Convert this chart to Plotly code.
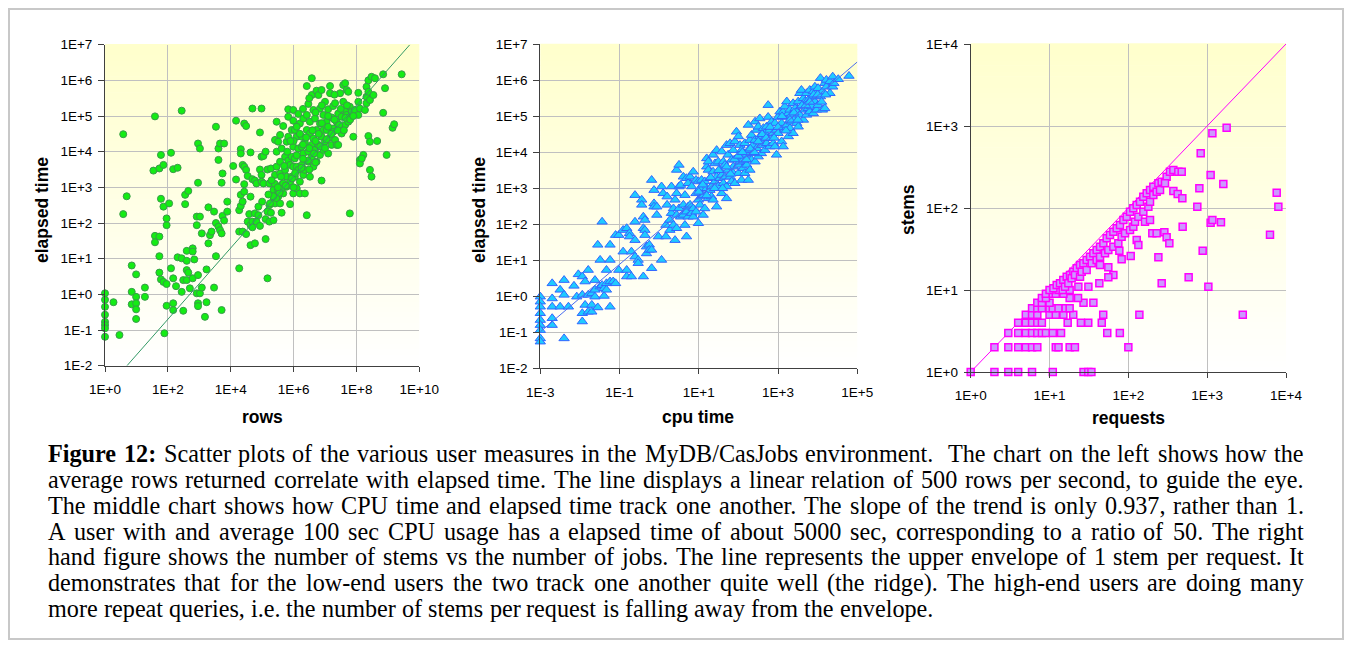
import plotly.graph_objects as go

# ---------------- DATA (log10 exponents on log axes) ----------------
# Panel 1: (log10 rows, log10 elapsed time)
rows_elapsed_log10 = [
    (0, 0.03), (0, -0.15), (0, -0.35), (0, -0.57), (0, -0.77), (0, -0.86), (0, -0.95), (0, -1.19),
    (0.27, -0.22), (0.46, -1.14), (0.58, 4.49), (0.58, 2.25), (0.69, 2.75),
    (0.85, 0.81), (0.85, 0.07), (0.85, -0.28),
    (0.99, 0.56), (0.99, -0.07), (0.99, -0.25), (0.99, -0.42), (0.99, -0.69),
    (1.27, 0.19), (1.27, -0.07),
    (1.59, 4.99), (1.59, 1.64), (1.59, 1.46), (1.54, 3.47),
    (1.73, 3.53), (1.73, 1.62), (1.73, 1.07), (1.73, 0.61),
    (1.78, 3.91), (1.78, 2.68), (1.78, 0.42),
    (1.86, 3.63), (1.86, 2.46), (1.86, 0.35),
    (1.96, 1.94), (1.96, 2.13), (1.96, 0.29), (1.96, -0.32), (1.89, -1.09),
    (2.04, 2.55), (2.1, 0.73), (2.1, 3.97),
    (2.17, 0.45), (2.17, -0.25), (2.17, -0.44), (2.17, 3.51),
    (2.26, 0.23), (2.31, 1.04), (2.31, 3.55),
    (2.44, 5.15), (2.44, 1.01), (2.44, 0.07),
    (2.49, -0.46), (2.49, 0.4), (2.55, 2.53), (2.55, 2.79),
    (2.6, 1.22), (2.6, 0.94), (2.6, 0.68), (2.6, 0.4),
    (2.65, 2.9), (2.65, 0.61), (2.7, 0.17),
    (2.79, 1.29), (2.79, 1.2), (2.79, 0.45), (2.84, 0.98),
    (2.92, 2.18), (2.92, 1.94), (2.92, 0.03),
    (2.96, 4.23), (2.96, 3.13), (2.96, 0.54), (2.96, -0.25), (2.96, -0.33),
    (3.02, 4.09), (3.02, 2.18), (3.02, 0.03),
    (3.08, 0.19), (3.08, 1.71), (3.18, -0.63), (3.23, 0.7), (3.23, -0.22),
    (3.29, 2.44), (3.29, 1.43), (3.34, 1.66), (3.39, 1.76),
    (3.47, 2.32), (3.47, 0.19),
    (3.53, 4.7), (3.53, 2.0), (3.53, 1.07),
    (3.61, 4.09), (3.61, 3.77), (3.61, 1.9),
    (3.66, 4.23), (3.66, 1.8),
    (3.71, -0.44), (3.71, 3.13), (3.71, 1.71),
    (3.74, 3.39), (3.74, 2.2), (3.79, 4.23), (3.79, 2.07),
    (3.89, 2.6), (3.89, 2.32),
    (4.08, 3.6), (4.17, 4.87), (4.17, 3.22),
    (4.27, 2.36), (4.27, 1.76), (4.27, 0.73),
    (4.32, 4.07), (4.32, 3.95), (4.32, 2.79), (4.32, 2.48),
    (4.38, 3.63), (4.38, 1.76), (4.38, 2.6),
    (4.43, 4.79), (4.43, 3.58), (4.43, 3.09), (4.43, 2.88),
    (4.49, 4.72), (4.49, 3.49), (4.49, 1.69),
    (4.54, 3.32), (4.54, 2.04), (4.59, 2.25),
    (4.63, 3.98), (4.63, 2.74), (4.63, 1.94), (4.63, 1.38),
    (4.69, 5.21), (4.69, 3.23), (4.69, 2.04), (4.69, 1.88),
    (4.77, 3.19), (4.77, 2.27), (4.77, 1.43),
    (4.82, 3.11), (4.82, 2.04), (4.88, 2.46), (4.88, 2.22),
    (4.93, 4.54), (4.93, 3.5), (4.93, 1.92),
    (4.98, 5.21), (4.98, 3.86), (4.98, 3.35), (4.98, 3.16),
    (5.04, 3.11), (5.04, 3.88),
    (5.11, 4.0), (5.11, 2.11), (5.11, 1.55),
    (5.17, 0.45), (5.17, 3.5), (5.17, 2.32),
    (5.23, 3.11), (5.23, 2.5), (5.23, 2.04),
    (5.28, 3.53), (5.28, 2.29),
    (5.36, 2.93), (5.36, 2.08), (5.36, 2.64),
    (5.41, 4.33), (5.41, 3.35), (5.41, 2.55),
    (5.46, 4.84), (5.46, 3.58), (5.46, 4.0), (5.46, 2.79),
    (5.51, 4.28), (5.51, 2.93), (5.51, 2.74),
    (5.57, 4.47), (5.57, 3.72), (5.57, 3.39), (5.57, 2.55),
    (5.62, 4.09), (5.62, 3.07), (5.62, 2.29),
    (5.67, 4.72), (5.67, 3.11), (5.67, 2.83),
    (5.73, 3.86), (5.73, 3.49),
    (5.78, 4.28), (5.78, 3.3), (5.78, 3.02),
    (5.83, 5.19), (5.83, 4.98), (5.83, 3.75), (5.83, 4.42),
    (5.89, 3.63), (5.89, 2.53), (5.89, 3.16),
    (5.94, 4.61), (5.94, 3.86), (5.94, 3.3),
    (5.99, 5.17), (5.99, 4.87), (5.99, 4.14), (5.99, 2.83), (5.99, 3.58),
    (6.04, 4.61), (6.04, 3.3), (6.04, 3.81),
    (6.1, 4.42), (6.1, 3.58), (6.1, 2.97),
    (6.15, 5.06), (6.15, 4.09), (6.15, 3.49),
    (6.2, 4.79), (6.2, 3.16), (6.2, 2.83),
    (6.26, 4.42), (6.26, 3.63), (6.26, 4.14),
    (6.31, 4.93), (6.31, 3.95), (6.31, 3.35),
    (6.36, 4.25), (6.36, 2.83), (6.36, 3.49),
    (6.42, 5.84), (6.42, 5.03), (6.42, 4.61), (6.42, 2.22),
    (6.47, 5.34), (6.47, 4.0), (6.47, 3.72),
    (6.52, 4.84), (6.52, 4.51), (6.52, 3.3),
    (6.58, 6.06), (6.58, 5.59), (6.58, 4.19), (6.58, 3.86),
    (6.63, 5.17), (6.63, 4.37), (6.63, 3.58),
    (6.68, 4.93), (6.68, 4.05),
    (6.73, 5.71), (6.73, 4.61), (6.73, 3.72),
    (6.79, 5.59), (6.79, 4.19),
    (6.84, 5.21), (6.84, 4.79), (6.84, 3.91),
    (6.89, 5.73), (6.89, 3.19), (6.89, 4.42),
    (6.95, 5.03), (6.95, 4.61), (6.95, 4.05),
    (7.0, 5.4), (7.0, 4.28), (7.05, 4.84), (7.05, 4.61),
    (7.1, 5.19), (7.1, 3.95),
    (7.16, 5.84), (7.16, 5.64), (7.16, 4.4),
    (7.21, 4.96), (7.21, 4.19), (7.26, 5.28), (7.26, 4.65),
    (7.32, 5.36), (7.32, 4.33), (7.37, 4.84), (7.37, 4.19),
    (7.42, 5.07), (7.42, 4.19), (7.48, 5.64), (7.48, 4.65),
    (7.53, 4.98), (7.53, 4.51), (7.58, 5.4), (7.58, 5.87),
    (7.64, 5.92), (7.64, 4.75), (7.64, 5.17),
    (7.69, 5.73), (7.69, 5.03), (7.74, 5.68), (7.74, 4.84),
    (7.79, 5.26), (7.79, 2.27),
    (7.85, 5.12), (7.9, 4.42), (7.95, 5.17),
    (8.06, 5.65), (8.06, 5.4), (8.06, 5.03),
    (8.11, 5.21), (8.11, 3.77), (8.11, 3.67),
    (8.22, 3.91), (8.17, 3.81), (8.27, 5.17),
    (8.32, 5.82), (8.32, 5.54), (8.32, 5.36),
    (8.38, 6.0), (8.38, 5.68), (8.38, 4.44),
    (8.43, 5.45), (8.43, 4.28), (8.43, 3.49),
    (8.48, 6.1), (8.48, 3.3),
    (8.54, 5.59), (8.59, 6.06), (8.66, 4.3),
    (8.85, 6.17), (8.85, 5.09), (8.91, 5.78), (8.96, 3.91),
    (9.15, 4.67), (9.2, 4.77), (9.44, 6.17),
    (5.25, 2.55), (5.45, 2.7), (5.6, 2.95), (5.75, 3.05), (5.95, 3.25), (6.05, 3.4),
    (6.25, 3.55), (6.45, 3.75), (6.65, 3.95), (6.85, 4.15), (7.05, 4.35), (7.25, 4.55),
    (7.45, 4.75), (7.65, 4.95), (5.35, 2.75), (5.55, 2.85),
    (6.0, 4.3), (6.1, 4.7), (6.2, 4.5), (6.3, 4.2), (6.4, 4.4), (6.5, 4.1), (6.6, 4.6),
    (6.7, 4.3), (6.8, 4.5), (6.9, 4.8), (7.0, 4.1), (7.1, 4.7), (7.2, 4.5), (7.3, 4.9),
    (7.4, 4.6), (7.5, 5.2), (7.6, 4.6), (7.7, 5.3), (7.8, 4.9), (7.9, 5.0), (6.3, 5.2),
    (6.5, 5.5), (6.7, 5.1), (6.9, 5.3), (7.1, 5.0), (7.3, 5.6), (6.1, 3.9), (6.3, 3.8),
    (6.5, 3.5), (6.7, 3.7), (5.7, 3.6), (5.8, 4.0), (5.9, 4.3), (6.0, 3.0), (5.6, 3.3),
    (5.4, 3.1), (5.2, 2.8), (5.0, 2.6), (5.3, 3.2), (5.5, 3.0),
]

# Panel 2: (log10 cpu time, log10 elapsed time)
cpu_elapsed_log10 = [
    (-3.0, -0.01), (-3.0, -0.15), (-3.0, -0.29), (-3.0, -0.47), (-3.0, -0.66), (-3.0, -0.8),
    (-3.0, -0.94), (-3.0, -1.17), (-3.0, -1.26),
    (-2.7, 0.36), (-2.7, -0.06), (-2.7, -0.29), (-2.7, -0.61), (-2.7, -0.8),
    (-2.5, 0.18), (-2.5, -0.29), (-2.4, 0.45), (-2.4, 0.04), (-2.4, -1.17),
    (-2.29, -0.29), (-2.15, 0.29), (-2.08, -0.01), (-2.04, 0.61),
    (-1.94, 0.55), (-1.94, 0.04), (-1.94, -0.47), (-1.94, -0.7),
    (-1.87, 0.41), (-1.87, -0.24), (-1.79, 0.73), (-1.79, 0.04), (-1.79, -0.43),
    (-1.7, 0.08), (-1.7, -0.24), (-1.7, -0.43), (-1.62, 0.45), (-1.62, 0.18), (-1.62, -0.01),
    (-1.55, 1.43), (-1.55, -0.31), (-1.49, 1.01), (-1.49, 0.27), (-1.44, 2.07), (-1.44, 0.31),
    (-1.39, 0.01), (-1.39, 0.22), (-1.33, 0.73), (-1.33, 0.36), (-1.33, 0.18),
    (-1.24, 1.43), (-1.24, 1.01), (-1.24, 0.41), (-1.24, -0.29), (-1.16, 0.41),
    (-1.1, 1.7), (-1.1, 0.36), (-1.02, 1.7), (-1.02, 0.73),
    (-0.91, 1.84), (-0.91, 1.24), (-0.82, 1.89), (-0.82, 0.73), (-0.82, 0.55),
    (-0.75, 1.75), (-0.75, 1.66), (-0.7, 1.24), (-0.7, 0.55),
    (-0.61, 2.81), (-0.61, 2.07), (-0.61, 1.56), (-0.61, 1.1), (-0.53, 1.01), (-0.53, 0.92),
    (-0.44, 2.68), (-0.44, 2.54), (-0.4, 2.21), (-0.4, 1.89), (-0.4, 0.55),
    (-0.36, 2.12), (-0.36, 1.84), (-0.36, 1.7), (-0.32, 1.38), (-0.32, 1.19),
    (-0.25, 1.43), (-0.25, 1.29), (-0.19, 3.23), (-0.19, 1.29), (-0.19, 0.78),
    (-0.13, 2.95), (-0.13, 2.58), (-0.13, 2.49), (-0.06, 2.49), (-0.06, 2.26), (-0.02, 1.66),
    (0.06, 3.05), (0.06, 1.01), (0.1, 2.86), (0.17, 1.66), (0.17, 1.98), (0.2, 2.77), (0.2, 2.54),
    (0.27, 2.12), (0.27, 1.84), (0.31, 3.05), (0.31, 2.31), (0.36, 2.44), (0.36, 1.98),
    (0.4, 2.68), (0.4, 1.56), (0.44, 3.51), (0.44, 2.86), (0.44, 2.26), (0.44, 1.89),
    (0.5, 3.65), (0.5, 3.05), (0.5, 2.44), (0.54, 3.09), (0.54, 2.21),
    (0.61, 3.32), (0.61, 2.54), (0.61, 2.26), (0.65, 2.81), (0.65, 1.98),
    (0.69, 3.28), (0.69, 1.66), (0.69, 2.35), (0.73, 3.14), (0.73, 2.21), (0.73, 2.49),
    (0.78, 3.32), (0.78, 2.54), (0.82, 3.05), (0.82, 2.31),
    (0.86, 3.46), (0.86, 2.44), (0.86, 2.21), (0.93, 3.23), (0.93, 2.86), (0.93, 2.35),
    (0.99, 3.19), (0.99, 2.68), (0.99, 2.03), (1.03, 3.0), (1.03, 2.54),
    (1.07, 3.23), (1.07, 2.77), (1.11, 2.81), (1.11, 2.26), (1.15, 3.19), (1.15, 2.44),
    (1.2, 3.83), (1.2, 3.6), (1.2, 3.0), (1.24, 3.74), (1.24, 3.51), (1.24, 2.72),
    (1.28, 3.28), (1.28, 2.95), (1.32, 3.05), (1.32, 2.77),
    (1.36, 3.93), (1.36, 3.46), (1.36, 2.68), (1.41, 3.69), (1.41, 3.19),
    (1.45, 4.06), (1.45, 3.32), (1.45, 2.49), (1.49, 3.74), (1.49, 3.05),
    (1.53, 3.51), (1.53, 3.28), (1.58, 4.02), (1.58, 3.37), (1.58, 2.86),
    (1.62, 3.74), (1.62, 3.14), (1.66, 3.65), (1.66, 3.32),
    (1.7, 4.2), (1.7, 3.05), (1.7, 2.72), (1.74, 3.93), (1.74, 3.51),
    (1.79, 4.25), (1.79, 3.32), (1.83, 3.79), (1.83, 3.19),
    (1.87, 4.06), (1.87, 3.6), (1.87, 3.42), (1.91, 4.3), (1.91, 3.14),
    (1.95, 4.57), (1.95, 3.83), (2.0, 4.44), (2.0, 3.42), (2.0, 3.65),
    (2.04, 4.2), (2.04, 3.74), (2.08, 4.06), (2.08, 3.23), (2.12, 3.79), (2.12, 3.56),
    (2.16, 4.25), (2.16, 3.42), (2.21, 3.93), (2.21, 3.65),
    (2.25, 4.76), (2.25, 4.06), (2.25, 3.23), (2.29, 4.34), (2.29, 3.51),
    (2.33, 4.48), (2.33, 3.79), (2.37, 4.2), (2.37, 3.97),
    (2.42, 4.85), (2.42, 4.34), (2.42, 3.74), (2.46, 4.62), (2.46, 4.11),
    (2.5, 4.71), (2.5, 3.88), (2.54, 4.94), (2.54, 4.44), (2.58, 4.2), (2.58, 3.97),
    (2.63, 4.67), (2.63, 4.34), (2.67, 4.53), (2.67, 4.06), (2.71, 4.71), (2.71, 4.25),
    (2.75, 5.31), (2.75, 4.98), (2.75, 4.39), (2.79, 4.62), (2.79, 4.16),
    (2.84, 4.44), (2.84, 4.85), (2.88, 4.53), (2.88, 4.25), (2.92, 4.81), (2.92, 4.16),
    (2.96, 4.62), (2.96, 3.93), (3.0, 4.98), (3.0, 4.53), (3.05, 5.13), (3.05, 4.71),
    (3.09, 4.81), (3.09, 4.3), (3.13, 5.13), (3.13, 4.16), (3.17, 5.27), (3.17, 4.62),
    (3.22, 5.41), (3.22, 4.98), (3.22, 4.76), (3.26, 5.08), (3.26, 4.44),
    (3.3, 5.18), (3.3, 4.67), (3.34, 4.85), (3.34, 5.04), (3.38, 5.36), (3.38, 4.53),
    (3.43, 4.94), (3.43, 5.22), (3.47, 4.81), (3.47, 5.13), (3.51, 5.41), (3.51, 4.71),
    (3.55, 5.64), (3.55, 5.04), (3.59, 5.73), (3.59, 5.27), (3.64, 5.5), (3.64, 4.9),
    (3.68, 5.18), (3.68, 5.41), (3.72, 5.04), (3.72, 5.64), (3.76, 5.45), (3.76, 5.22),
    (3.8, 5.73), (3.8, 5.13), (3.85, 5.5), (3.85, 5.27), (3.89, 5.69), (3.89, 5.08),
    (3.93, 5.82), (3.93, 5.41), (3.97, 5.55), (3.97, 5.18), (4.01, 5.78), (4.01, 5.31),
    (4.07, 6.06), (4.07, 5.55), (4.12, 5.18), (4.12, 5.69), (4.18, 5.22), (4.18, 5.92),
    (4.22, 6.01), (4.22, 5.82), (4.31, 5.64), (4.31, 5.97), (4.38, 6.1), (4.38, 5.82),
    (4.41, 5.92), (4.52, 6.03), (4.79, 6.12),
    (1.0, 2.9), (1.1, 3.1), (1.2, 2.8), (1.3, 3.3), (1.4, 3.0), (1.5, 3.5), (1.6, 3.0),
    (1.7, 3.6), (1.8, 3.4), (1.9, 3.8), (2.0, 3.9), (2.1, 4.0), (2.2, 3.8), (2.3, 4.1),
    (2.4, 4.0), (2.5, 4.3), (2.6, 4.5), (2.7, 4.4), (2.8, 4.7), (2.9, 4.4), (3.0, 4.7),
    (3.1, 5.0), (3.2, 4.6), (3.3, 4.9), (3.4, 5.1), (3.5, 4.9), (3.6, 5.3), (3.7, 5.3),
    (3.8, 5.4), (3.9, 5.6), (4.0, 5.6), (4.1, 5.4), (4.2, 5.6),
]

# Panel 3: small integer counts (requests, stems)
requests_small = [1, 2, 3, 4, 6, 11, 27, 31, 34,
                  2, 3, 4, 5, 6, 7, 12, 13, 18, 21, 100,
                  3, 4, 5, 6, 7, 8, 9, 11, 14, 54, 78,
                  4, 5, 6, 7, 8, 17, 25, 31, 46,
                  5, 6, 7, 10, 12, 15, 20, 48, 138, 2830,
                  6, 7, 8, 10, 11, 13, 16, 18,
                  7, 8, 10, 27, 36,
                  8, 9, 18, 23,
                  9, 11, 12, 15,
                  10, 13, 18]
stems_small = [1, 1, 1, 1, 1, 1, 1, 1, 1,
               2, 2, 2, 2, 2, 2, 2, 2, 2, 2, 2,
               3, 3, 3, 3, 3, 3, 3, 3, 3, 3, 3,
               4, 4, 4, 4, 4, 4, 4, 4, 4,
               5, 5, 5, 5, 5, 5, 5, 5, 5, 5,
               6, 6, 6, 6, 6, 6, 6, 6,
               7, 7, 7, 7, 7,
               8, 8, 8, 8,
               9, 9, 9, 9,
               10, 10, 10]
# Panel 3: larger users (log10 requests, log10 stems)
requests_stems_log10 = [
    (1.049, 1.02), (1.091, 1.061), (1.133, 1.081), (1.175, 1.122), (1.218, 1.163), (1.26, 1.183),
    (1.302, 1.224), (1.345, 1.264), (1.387, 1.305), (1.429, 1.325), (1.471, 1.366), (1.514, 1.407),
    (1.556, 1.447), (1.598, 1.488), (1.641, 1.528), (1.683, 1.569), (1.725, 1.63), (1.767, 1.671),
    (1.81, 1.711), (1.852, 1.752), (1.894, 1.793), (1.937, 1.854), (1.979, 1.894), (2.021, 1.955),
    (2.063, 1.996), (2.106, 2.037), (2.148, 2.077), (2.19, 2.138), (2.233, 2.179), (2.275, 2.22),
    (2.317, 2.26), (2.381, 2.301), (2.423, 2.321), (2.486, 2.382), (2.528, 2.443), (2.571, 2.463),
    (2.634, 2.443), (2.677, 2.443),
    (1.167, 1.0), (1.197, 1.041), (1.239, 1.081), (1.281, 1.142), (1.323, 1.183), (1.387, 1.163),
    (1.408, 1.224), (1.471, 1.244), (1.535, 1.325), (1.598, 1.366), (1.641, 1.407), (1.704, 1.447),
    (1.746, 1.488), (1.81, 1.528), (1.873, 1.569), (1.915, 1.65), (1.958, 1.691), (2.021, 1.732),
    (2.063, 1.772), (2.085, 1.833), (2.127, 1.894), (2.19, 1.955), (2.254, 2.016), (2.275, 2.077),
    (2.317, 2.159), (2.359, 2.199), (2.402, 2.22), (2.465, 2.301),
    (1.632, 1.081), (1.366, 1.041), (1.493, 1.041), (1.641, 1.305), (1.746, 1.276), (1.81, 1.183),
    (1.746, 1.154), (1.886, 1.48), (1.915, 1.374), (2.03, 1.415), (2.106, 1.61), (2.127, 1.549),
    (2.211, 1.833), (2.275, 1.854), (2.304, 1.691), (2.359, 1.691), (2.381, 1.398), (2.423, 1.081),
    (2.457, 1.703), (2.486, 1.642), (2.52, 1.569), (2.571, 2.207), (2.626, 2.171), (2.685, 2.118),
    (2.689, 1.772), (2.765, 1.154), (2.875, 2.016), (2.901, 2.24), (2.918, 2.667), (2.943, 1.48),
    (3.015, 1.041), (3.044, 2.402), (3.044, 1.821), (3.066, 2.911), (3.066, 1.854), (3.175, 1.825),
    (3.205, 2.293), (3.247, 2.98), (3.797, 1.675), (3.882, 2.187), (3.903, 2.016),
]

# Reference lines
rows_per_second = 500          # panel 1: elapsed = rows / 500
cpu_ref, elapsed_ref, cpu_slope = 100, 5000, 0.937   # panel 2: elapsed = 5000*(cpu/100)^0.937
stems_per_request = 1          # panel 3 envelope

# Axes / labels
p1_xticks = [0, 2, 4, 6, 8, 10]
p1_yticks = [-2, -1, 0, 1, 2, 3, 4, 5, 6, 7]
p2_xticks = [-3, -1, 1, 3, 5]
p2_yticks = [-2, -1, 0, 1, 2, 3, 4, 5, 6, 7]
p3_xticks = [0, 1, 2, 3, 4]
p3_yticks = [0, 1, 2, 3, 4]
axis_titles = [("rows", "elapsed time"), ("cpu time", "elapsed time"), ("requests", "stems")]

caption_lines = [
    "<b>Figure 12:</b> Scatter plots of the various user measures in the MyDB/CasJobs environment.  The chart on the left shows how the",
    "average rows returned correlate with elapsed time. The line displays a linear relation of 500 rows per second, to guide the eye.",
    "The middle chart shows how CPU time and elapsed time track one another. The slope of the trend is only 0.937, rather than 1.",
    "A user with and average 100 sec CPU usage has a elapsed time of about 5000 sec, corresponding to a ratio of 50. The right",
    "hand figure shows the number of stems vs the number of jobs. The line represents the upper envelope of 1 stem per request. It",
    "demonstrates that for the low-end users the two track one another quite well (the ridge). The high-end users are doing many",
    "more repeat queries, i.e. the number of stems per request is falling away from the envelope.",
]

# ---------------- LAYOUT HELPERS ----------------
# The page body keeps an 8px margin, so the figure is sized to fit the 1352x648 window exactly.
PAGE_OFF = 8
W, H = 1352 - 2 * PAGE_OFF, 648 - 2 * PAGE_OFF
def fx(px): return (px - PAGE_OFF) / W          # page pixel -> paper fraction
def fy(py): return 1 - (py - PAGE_OFF) / H

def tick_label(e):
    return "1E+%d" % e if e >= 0 else "1E-%d" % (-e)

panels = [  # page-pixel boxes of the plotting areas
    dict(x0=105, x1=419.3, y0=44.7, y1=365.7, xr=[0, 10], yr=[-2, 7], xt=p1_xticks, yt=p1_yticks),
    dict(x0=540.3, x1=857.3, y0=44.3, y1=368.3, xr=[-3, 5], yr=[-2, 7], xt=p2_xticks, yt=p2_yticks),
    dict(x0=970.7, x1=1286, y0=44, y1=372, xr=[0, 4], yr=[0, 4], xt=p3_xticks, yt=p3_yticks),
]

fig = go.Figure()

# Panel 1 traces
fig.add_trace(go.Scatter(
    x=[10 ** a for a, b in rows_elapsed_log10], y=[10 ** b for a, b in rows_elapsed_log10],
    mode="markers", xaxis="x", yaxis="y", cliponaxis=False,
    marker=dict(symbol="circle", size=7, color="#14EC14", line=dict(color="#3A9A4A", width=1))))
fig.add_trace(go.Scatter(
    x=[10 ** -2 * rows_per_second, 10 ** 7 * rows_per_second], y=[10 ** -2, 10 ** 7],
    mode="lines", xaxis="x", yaxis="y", line=dict(color="#339966", width=1)))

# Panel 2 traces
fig.add_trace(go.Scatter(
    x=[10 ** a for a, b in cpu_elapsed_log10], y=[10 ** b for a, b in cpu_elapsed_log10],
    mode="markers", xaxis="x2", yaxis="y2", cliponaxis=False,
    marker=dict(symbol="triangle-up", size=9, color="#1ECBFF", line=dict(color="#3366FF", width=1))))
cx = [1e-3, 1e5]
fig.add_trace(go.Scatter(
    x=cx, y=[elapsed_ref * (c / cpu_ref) ** cpu_slope for c in cx],
    mode="lines", xaxis="x2", yaxis="y2", line=dict(color="#4A6CF0", width=1)))

# Panel 3 traces
fig.add_trace(go.Scatter(
    x=[1, 1e4], y=[stems_per_request * 1, stems_per_request * 1e4],
    mode="lines", xaxis="x3", yaxis="y3", line=dict(color="#FF00FF", width=1)))
fig.add_trace(go.Scatter(
    x=requests_small + [10 ** a for a, b in requests_stems_log10],
    y=stems_small + [10 ** b for a, b in requests_stems_log10],
    mode="markers", xaxis="x3", yaxis="y3", cliponaxis=False,
    marker=dict(symbol="square", size=7, color="#CC99FF", line=dict(color="#FF00FF", width=1.5))))

tick_font = dict(family="Liberation Sans, Arial, sans-serif", size=13.5, color="#000000")
layout = dict(
    width=W, height=H, margin=dict(l=0, r=0, t=0, b=0, autoexpand=False),
    paper_bgcolor="white", plot_bgcolor="white", showlegend=False,
)
shapes = []
annotations = []
n_stripes = 60
for i, p in enumerate(panels):
    sx = "" if i == 0 else str(i + 1)
    layout["xaxis" + sx] = dict(
        domain=[fx(p["x0"]), fx(p["x1"])], anchor="y" + sx, type="log", range=p["xr"],
        tickvals=[10 ** e for e in p["xt"]], ticktext=[tick_label(e) for e in p["xt"]],
        showgrid=True, gridcolor="#C0C0C0", gridwidth=1, zeroline=False, automargin=False,
        showline=True, linecolor="#404040", linewidth=1, mirror=False,
        ticks="outside", ticklen=5, tickcolor="#404040", tickwidth=1,
        tickfont=tick_font, ticklabelstandoff=6)
    layout["yaxis" + sx] = dict(
        domain=[fy(p["y1"]), fy(p["y0"])], anchor="x" + sx, type="log", range=p["yr"],
        tickvals=[10 ** e for e in p["yt"]], ticktext=[tick_label(e) for e in p["yt"]],
        showgrid=True, gridcolor="#C0C0C0", gridwidth=1, zeroline=False, automargin=False,
        showline=True, linecolor="#404040", linewidth=1, mirror=False,
        ticks="outside", ticklen=6, tickcolor="#404040", tickwidth=1,
        tickfont=tick_font, ticklabelstandoff=3)
    # vertical gradient background: pale yellow top -> white bottom
    for k in range(n_stripes):
        t = (k + 0.5) / n_stripes
        b = int(round(255 - (255 - 204) * t))
        shapes.append(dict(type="rect", xref="x%s domain" % sx, yref="y%s domain" % sx,
                           x0=0, x1=1, y0=k / n_stripes, y1=(k + 1) / n_stripes + 0.002,
                           fillcolor="rgb(255,255,%d)" % b, line=dict(width=0), layer="below"))

# axis titles
title_font = dict(family="Liberation Sans, Arial, sans-serif", size=17.5, color="#000000")
title_pos = [((262, 417), (42, 210)), ((698, 417), (479, 210)), ((1128, 418), (908, 210))]
for (xt, yt), ((xpx, xpy), (ypx, ypy)) in zip(axis_titles, title_pos):
    annotations.append(dict(text="<b>%s</b>" % xt, x=fx(xpx), y=fy(xpy), xref="paper", yref="paper",
                            showarrow=False, font=title_font, xanchor="center", yanchor="middle"))
    annotations.append(dict(text="<b>%s</b>" % yt, x=fx(ypx), y=fy(ypy), xref="paper", yref="paper",
                            showarrow=False, font=title_font, textangle=-90,
                            xanchor="center", yanchor="middle"))

# outer frame (kept inside the figure)
shapes.append(dict(type="rect", xref="paper", yref="paper", x0=fx(9), x1=fx(1343), y0=fy(639), y1=fy(9),
                   line=dict(color="#C8C8C8", width=2), fillcolor="rgba(0,0,0,0)", layer="above"))

# ---------------- CAPTION (justified, Times metrics) ----------------
TIMES = {' ': 250, 'a': 444, 'b': 500, 'c': 444, 'd': 500, 'e': 444, 'f': 333, 'g': 500, 'h': 500,
         'i': 278, 'j': 278, 'k': 500, 'l': 278, 'm': 778, 'n': 500, 'o': 500, 'p': 500, 'q': 500,
         'r': 333, 's': 389, 't': 278, 'u': 500, 'v': 500, 'w': 722, 'x': 500, 'y': 500, 'z': 444,
         'A': 722, 'B': 667, 'C': 667, 'D': 722, 'E': 611, 'F': 556, 'G': 722, 'H': 722, 'I': 333,
         'J': 389, 'K': 722, 'L': 611, 'M': 889, 'N': 722, 'O': 722, 'P': 556, 'Q': 722, 'R': 667,
         'S': 556, 'T': 611, 'U': 722, 'V': 722, 'W': 944, 'X': 722, 'Y': 722, 'Z': 611,
         '.': 250, ',': 250, ':': 278, '-': 333, '/': 278, '(': 333, ')': 333}
for d in "0123456789":
    TIMES[d] = 500
TIMES_BOLD = {'F': 611, 'i': 278, 'g': 500, 'u': 556, 'r': 444, 'e': 444, '1': 500, '2': 500, ':': 333}

cap_size = 24.2
cap_left, cap_right = 48, 1304
cap_y0, cap_dy = 453.6, 25.8
cap_font = dict(family="Liberation Serif, Times New Roman, serif", size=cap_size, color="#000000")

def word_width(w):
    bold = w.startswith("<b>")
    plain = w.replace("<b>", "").replace("</b>", "")
    table = TIMES_BOLD if bold else TIMES
    return sum(table.get(ch, 500) for ch in plain) * cap_size / 1000.0

for li, line in enumerate(caption_lines):
    line2 = line.replace("<b>Figure 12:</b>", "<b>Figure</b> <b>12:</b>")
    parts = line2.split(" ")
    words, gaps = [], []
    cnt = 0
    for ptxt in parts:
        if ptxt == "":
            cnt += 1
            continue
        if words:
            gaps.append(cnt)
        words.append(ptxt)
        cnt = 1
    widths = [word_width(w) for w in words]
    space_w = 250 * cap_size / 1000.0
    justify = li < len(caption_lines) - 1
    if justify:
        per_space = (cap_right - cap_left - sum(widths)) / float(sum(gaps))
        per_space = max(per_space, 0.6 * space_w)
    else:
        per_space = space_w
    xpos = cap_left
    ypx = cap_y0 + li * cap_dy
    for wi, w in enumerate(words):
        annotations.append(dict(text=w, x=fx(xpos + widths[wi] / 2.0), y=fy(ypx),
                                xref="paper", yref="paper",
                                showarrow=False, xanchor="center", yanchor="middle", borderpad=0,
                                font=cap_font))
        xpos += widths[wi]
        if wi < len(gaps):
            xpos += gaps[wi] * per_space

layout["shapes"] = shapes
layout["annotations"] = annotations
fig.update_layout(**layout)
fig.write_html("out.html")
